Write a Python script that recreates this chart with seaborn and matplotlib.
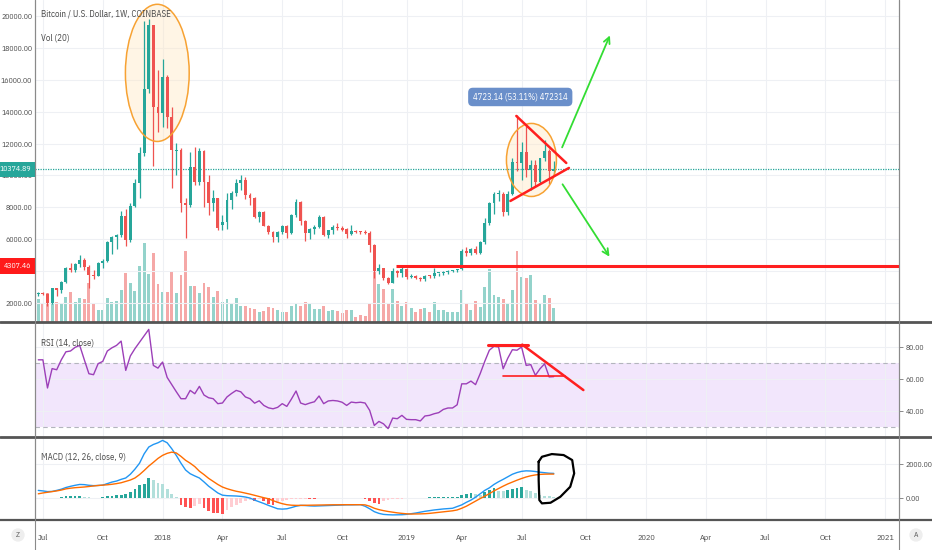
import numpy as np
import pandas as pd
import matplotlib
matplotlib.use("Agg")
import matplotlib.pyplot as plt
import matplotlib.dates as mdates
from matplotlib.patches import Ellipse
from matplotlib.lines import Line2D
from matplotlib.transforms import blended_transform_factory
import seaborn as sns

# weekly BTC/USD candles (week starting 2017-06-26)
opens = [2560, 2610, 2560, 1980, 2920, 2810, 3340, 4180, 4100, 4430,
         4700, 4280, 3780, 3720, 4490, 4660, 5810, 6120, 6270, 7460,
         5950, 8090, 9550, 11390, 15410, 19440, 14320, 13900, 16200, 13690,
         11560, 11600, 8250, 8150, 10550, 9610, 11560, 9610, 8250, 8580,
         6900, 7100, 8460, 8880, 9510, 9720, 8780, 8580, 7415, 7730,
         6850, 6470, 6160, 6430, 6830, 6410, 7520, 8320, 7170, 6410,
         6620, 6790, 7415, 6260, 6580, 6790, 6690, 6620, 6300, 6510,
         6470, 6460, 6410, 5640, 4030, 4180, 3600, 3270, 4030, 3860,
         4130, 3650, 3700, 3600, 3500, 3690, 3670, 3860, 3880, 3920,
         4000, 4050, 4150, 5280, 5110, 5390, 5150, 5850, 7040, 8250,
         8820, 8850, 7700, 8850, 10850, 10750, 11500, 10350, 10650, 9600,
         11080, 11550, 10300]
highs = [2700, 2680, 2600, 2950, 2960, 3400, 4250, 4480, 4500, 5010,
         4850, 4400, 4100, 4550, 4750, 5900, 6200, 6300, 7800, 7900,
         8250, 9800, 11800, 19700, 19800, 19450, 16600, 17300, 16300, 14300,
         12050, 11700, 8600, 11450, 11800, 11700, 11600, 10000, 9100, 8600,
         7500, 8900, 9000, 9750, 10030, 9900, 8900, 8650, 7800, 7800,
         6900, 6500, 6500, 6900, 6900, 7600, 8500, 8400, 7200, 6700,
         6900, 7500, 7450, 6600, 6900, 7000, 6800, 6700, 6900, 6550,
         6500, 6600, 6500, 5700, 4450, 4200, 3650, 4200, 4100, 4250,
         4200, 3800, 3750, 3650, 3750, 3750, 4200, 3900, 3980, 4050,
         4100, 4150, 5400, 5500, 5450, 5600, 5900, 7300, 8350, 8950,
         9100, 8950, 9000, 11100, 13800, 12100, 13150, 10950, 10950, 11100,
         12250, 11650, 10900]
lows = [2450, 2480, 1830, 1960, 2450, 2620, 3250, 3950, 3960, 4280,
        4100, 2970, 3500, 3700, 4200, 4600, 5100, 5400, 6150, 5600,
        5850, 8000, 8600, 11200, 15200, 10600, 12750, 13060, 12960, 9200,
        10000, 7730, 6060, 8000, 9400, 9400, 8040, 7500, 7800, 6600,
        6550, 6650, 7900, 8700, 9100, 8500, 8160, 7300, 7050, 6800,
        6300, 5800, 5800, 6300, 6100, 6300, 7400, 6900, 5900, 6000,
        6300, 6700, 6200, 6100, 6300, 6550, 6500, 6100, 6250, 6400,
        6300, 6350, 5200, 3600, 3800, 3450, 3220, 3240, 3650, 3650,
        3500, 3550, 3500, 3380, 3400, 3600, 3600, 3700, 3750, 3800,
        3950, 3950, 4100, 4950, 5000, 5100, 5100, 5700, 6900, 7600,
        8400, 7450, 7500, 8800, 10300, 9700, 9900, 9100, 9350, 9450,
        10900, 9450, 9950]
closes = [2610, 2560, 1980, 2920, 2810, 3340, 4180, 4100, 4430, 4700,
          4280, 3760, 3720, 4490, 4660, 5810, 6120, 6270, 7460, 5950,
          8090, 9550, 11390, 15410, 19440, 14320, 13900, 16200, 13690, 11600,
          11600, 8250, 8150, 10550, 9610, 11560, 9610, 8250, 8580, 6690,
          7100, 8460, 8880, 9510, 9720, 8780, 8580, 7415, 7730, 6850,
          6470, 6160, 6430, 6830, 6410, 7520, 8320, 7170, 6410, 6620,
          6790, 7415, 6260, 6580, 6790, 6690, 6580, 6300, 6510, 6470,
          6460, 6410, 5640, 4030, 4180, 3600, 3270, 4030, 3860, 4130,
          3650, 3700, 3600, 3500, 3690, 3670, 3860, 3880, 3920, 4000,
          4050, 4150, 5280, 5110, 5390, 5150, 5850, 7040, 8250, 8820,
          8850, 7700, 8850, 10850, 10750, 11500, 10350, 10650, 9600, 11080,
          11550, 10300, 10374.89]
volume = [46, 36, 58, 38, 40, 36, 50, 60, 40, 48,
          46, 78, 38, 24, 24, 48, 40, 42, 64, 98,
          78, 62, 112, 158, 96, 138, 76, 60, 60, 102,
          58, 94, 142, 72, 72, 58, 78, 70, 50, 62,
          40, 46, 38, 48, 32, 32, 28, 26, 20, 22,
          30, 28, 24, 20, 20, 32, 38, 32, 40, 36,
          26, 26, 32, 22, 24, 22, 18, 24, 24, 10,
          14, 12, 38, 104, 76, 66, 38, 66, 42, 32,
          40, 28, 20, 26, 28, 20, 40, 24, 24, 20,
          20, 20, 64, 36, 24, 42, 30, 70, 106, 54,
          50, 46, 38, 64, 142, 90, 88, 94, 44, 36,
          54, 48, 28]
rsi = [72, 72, 54.4, 66.5, 65.8, 72, 77, 77.5, 79.8, 81,
       72, 63.3, 62.7, 69.6, 71, 77.5, 79.5, 81, 83.7, 65.4,
       74.4, 79, 83, 87, 91, 68.5, 66.8, 70.6, 61, 56.5,
       52, 47.7, 47.7, 52.9, 50.8, 55.4, 50, 48.3, 47.7, 44.6,
       45, 48.8, 51, 52.9, 52, 48.8, 47.7, 44.9, 46.4, 43.5,
       42, 41.4, 42.3, 44.6, 42.9, 47.5, 52.5, 45, 44, 45,
       45.8, 49.4, 44.6, 46.3, 46.6, 46.3, 45.5, 43.5, 45.6, 45.2,
       45.5, 45, 40.4, 31, 33.5, 32, 29, 35.6, 35.2, 37.3,
       34.8, 34.6, 34.6, 33.8, 36.9, 37.3, 38.3, 39, 41, 41.9,
       41.9, 43.9, 57, 57, 58.7, 56.5, 63.3, 71, 78, 80.4,
       80, 66.4, 73, 78.3, 78, 80, 68.5, 69, 62.3, 66.4,
       69.5, 61.3, 61.5]
macd = [450, 420, 380, 390, 450, 520, 620, 690, 750, 800,
        790, 750, 730, 740, 760, 850, 940, 1000, 1100, 1180,
        1400, 1700, 2050, 2600, 3000, 3150, 3250, 3390, 3250, 2900,
        2500, 2050, 1650, 1430, 1300, 1180, 950, 700, 500, 300,
        170, 140, 130, 120, 100, 60, 0, -120, -220, -320,
        -430, -530, -630, -650, -630, -560, -480, -430, -440, -460,
        -470, -460, -450, -440, -430, -420, -410, -400, -400, -395,
        -390, -480, -630, -800, -900, -960, -980, -990, -985, -980,
        -960, -920, -880, -830, -780, -740, -700, -670, -640, -620,
        -600, -500, -400, -250, -120, 50, 250, 450, 600, 800,
        960, 1100, 1250, 1400, 1500, 1570, 1600, 1590, 1560, 1520,
        1490, 1460, 1450]
signal = [250, 300, 340, 380, 420, 470, 540, 580, 610, 630,
          650, 680, 710, 740, 760, 780, 810, 850, 900, 980,
          1060, 1180, 1380, 1620, 1880, 2100, 2330, 2510, 2630, 2700,
          2650, 2450, 2220, 2050, 1850, 1580, 1380, 1160, 980, 800,
          650, 550, 470, 400, 350, 290, 230, 160, 90, 20,
          -40, -150, -250, -330, -390, -420, -430, -430, -425, -420,
          -415, -410, -405, -400, -395, -395, -392, -390, -390, -390,
          -390, -400, -480, -600, -680, -740, -790, -830, -870, -900,
          -925, -940, -935, -930, -920, -900, -870, -840, -810, -780,
          -750, -700, -600, -480, -330, -180, -30, 110, 260, 420,
          560, 700, 830, 940, 1050, 1150, 1240, 1310, 1360, 1390,
          1405, 1410, 1410]
hist = [20, 15, 10, 15, 30, 80, 100, 110, 120, 130,
        60, 40, 30, 20, 60, 110, 150, 170, 200, 250,
        350, 550, 750, 850, 1200, 1040, 880, 840, 550, 250,
        80, -400, -550, -600, -450, -350, -600, -750, -850, -900,
        -920, -700, -550, -400, -300, -200, -120, -160, -60, -200,
        -350, -400, -300, -200, -120, -80, -50, -40, -30, -60,
        -70, -20, -10, -5, 5, 5, 5, 5, 5, 5,
        30, -30, -200, -300, -350, -150, -100, -60, -40, -30,
        20, 20, 25, 30, 30, 40, 50, 50, 60, 60,
        70, 90, 200, 250, 290, 230, 200, 350, 450, 590,
        420, 390, 480, 560, 600, 640, 490, 390, 290, 200,
        150, 100, 60]

price_ticks = list(range(2000, 20001, 2000))
tick_dates = ['2017-07-03', '2017-10-02', '2018-01-01', '2018-04-02', '2018-07-02',
              '2018-10-01', '2019-01-07', '2019-04-01', '2019-07-01', '2019-10-07',
              '2020-01-06', '2020-04-06', '2020-07-06', '2020-10-05', '2021-01-04']
tick_labels = ['Jul', 'Oct', '2018', 'Apr', 'Jul', 'Oct', '2019', 'Apr', 'Jul', 'Oct',
               '2020', 'Apr', 'Jul', 'Oct', '2021']
support_level = 4307.46

UP, DOWN = '#26a69a', '#ef5350'
GRID = '#eef0f4'
TXT = '#4a4a4a'
FS = 5.7

sns.set_theme(style="white")
plt.rcParams['font.family'] = ['IBM Plex Sans Condensed', 'DejaVu Sans']


def d(s):
    return mdates.date2num(pd.Timestamp(s))


W, H = 932, 550


def rect(x0, y0, x1, y1):
    return [x0 / W, 1 - y1 / H, (x1 - x0) / W, (y1 - y0) / H]


O, Hh, L, C = map(np.array, (opens, highs, lows, closes))
n = len(C)
weeks = pd.date_range('2017-06-26', periods=n, freq='7D')
x = mdates.date2num(weeks)
up = C >= O
cols = np.where(up, UP, DOWN)
vcols = np.where(up, '#94d3cb', '#f5a8a7')

fig = plt.figure(figsize=(W / 100, H / 100), dpi=100)
ax = fig.add_axes(rect(35, 0, 899, 322))
ax_rsi = fig.add_axes(rect(35, 323, 899, 436), sharex=ax)
ax_macd = fig.add_axes(rect(35, 437, 899, 520), sharex=ax)
xl, xr = d('2017-06-21'), d('2021-01-25')

# ---- main pane: volume underneath, candles on top
ax_vol = ax.twinx()
ax_vol.bar(x, volume, width=4.4, color=vcols, linewidth=0)
ax_vol.set_ylim(0, max(volume) * 4.08)
ax_vol.axis('off')
ax.set_zorder(ax_vol.get_zorder() + 1)
ax.patch.set_visible(False)

ax.vlines(x, L, Hh, colors=cols, lw=0.9, zorder=3)
ax.bar(x, np.maximum(np.abs(C - O), 60), bottom=np.minimum(O, C), width=4.4,
       color=cols, linewidth=0, zorder=4)
ax.set_xlim(xl, xr)
ax.set_ylim(810, 21000)
ax.set_yticks(price_ticks)
ax.set_yticklabels([f'{v:.2f}' for v in price_ticks])
ax.grid(True, color=GRID, lw=0.8)
ax.axhline(C[-1], color=UP, lw=0.9, ls=(0, (1, 1)), zorder=2)

# drawings
ax.add_patch(Ellipse((d('2017-12-24'), 16430), 97, 8600, fc='#ffe9c7', ec='none', alpha=0.45, zorder=1))
ax.add_patch(Ellipse((d('2017-12-24'), 16430), 97, 8600, fc='none', ec='#f7a233', lw=1.1, zorder=6))
ax.add_patch(Ellipse((d('2019-07-16'), 10970), 76, 4580, fc='#ffe9c7', ec='none', alpha=0.45, zorder=1))
ax.add_patch(Ellipse((d('2019-07-16'), 10970), 76, 4580, fc='none', ec='#f7a233', lw=1.1, zorder=6))
ax.plot([d('2019-06-23'), d('2019-09-07')], [13730, 10780], color='#ff1f1f', lw=1.8, zorder=7)
ax.plot([d('2019-06-14'), d('2019-09-11')], [8400, 10470], color='#ff1f1f', lw=1.8, zorder=7)
ax.hlines(support_level, d('2018-12-22'), xr, color='#ff1f1f', lw=2.2, zorder=7)
for end in [(d('2019-11-14'), 18940), (d('2019-11-14'), 4760)]:
    start = (d('2019-08-30'), 11600 if end[1] > 10000 else 9590)
    ax.annotate('', xy=end, xytext=start,
                arrowprops=dict(arrowstyle='->', color='#33dd33', lw=1.3, mutation_scale=11),
                zorder=7)
ax.text(d('2019-06-29'), 14920, '4723.14 (53.11%) 472314', ha='center', va='center',
        color='white', fontsize=FS + 0.5, zorder=8,
        bbox=dict(boxstyle='round,pad=0.55', fc='#6a8fca', ec='none'))

lbl = blended_transform_factory(ax.transAxes, ax.transData)
ax.text(-0.004, C[-1], f'{C[-1]:.2f}', transform=lbl, ha='right', va='center', color='white',
        fontsize=FS, clip_on=False, zorder=9,
        bbox=dict(boxstyle='square,pad=0.4', fc=UP, ec='none'))
ax.text(-0.004, support_level, f'{support_level:.2f}', transform=lbl, ha='right', va='center',
        color='white', fontsize=FS, clip_on=False, zorder=9,
        bbox=dict(boxstyle='square,pad=0.5', fc='#ff1a1a', ec='none'))

# ---- RSI pane
ax_rsi.axhspan(30, 70, color='#f2e6fc', lw=0, zorder=0)
for lvl in (30, 70):
    ax_rsi.axhline(lvl, color='#b3b5bd', lw=0.8, ls=(0, (4, 3)), zorder=1)
sns.lineplot(x=x, y=rsi, ax=ax_rsi, color='#9c3fb8', lw=1.0, zorder=3)
ax_rsi.set_ylim(24.4, 95)
ax_rsi.set_yticks([40, 60, 80])
ax_rsi.set_yticklabels(['40.00', '60.00', '80.00'])
ax_rsi.grid(True, color=GRID, lw=0.8)
ax_rsi.plot([d('2019-05-11'), d('2019-07-11')], [81.3, 81.3], color='#ff1f1f', lw=2.2, zorder=5)
ax_rsi.plot([d('2019-07-02'), d('2019-10-03')], [81.5, 53.1], color='#ff1f1f', lw=1.8, zorder=5)
ax_rsi.plot([d('2019-06-02'), d('2019-09-05')], [61.9, 61.9], color='#ff1f1f', lw=1.2, zorder=5)

# ---- MACD pane
hcols = []
for i, h in enumerate(hist):
    prev = hist[i - 1] if i else h
    if h >= 0:
        hcols.append('#26a69a' if h >= prev else '#b2dfdb')
    else:
        hcols.append('#ff5252' if h < prev else '#ffcdd2')
ax_macd.bar(x, hist, width=4.2, color=hcols, linewidth=0, zorder=2)
sns.lineplot(x=x, y=macd, ax=ax_macd, color='#2196f3', lw=1.0, zorder=3)
sns.lineplot(x=x, y=signal, ax=ax_macd, color='#ff6d00', lw=1.0, zorder=3)
ax_macd.set_ylim(-1290, 3590)
ax_macd.set_yticks([0, 2000])
ax_macd.set_yticklabels(['0.00', '2000.00'])
ax_macd.grid(True, color=GRID, lw=0.8)
loop = [(571.9, 2134), (577, 2428), (592, 2587), (610, 2528), (623, 2234), (626, 1452),
        (620, 664), (605, 76), (590, -276), (577, -312), (573, -118), (572, 1058), (571.9, 2134)]
base = d('2018-01-01')
ax_macd.plot([base + p[0] for p in loop], [p[1] for p in loop], color='black', lw=1.6,
             solid_joinstyle='round', solid_capstyle='round', zorder=6)

# ---- axes cosmetics
tnum = [d(t) for t in tick_dates]
for a in (ax, ax_rsi, ax_macd):
    a.set_xticks(tnum)
    a.set_xlabel('')
    a.set_ylabel('')
    a.spines['top'].set_visible(False)
    a.spines['bottom'].set_visible(False)
    for s in ('left', 'right'):
        a.spines[s].set_color('#8a8a8a')
        a.spines[s].set_linewidth(0.8)
    a.tick_params(axis='both', labelsize=FS, labelcolor=TXT, colors='#8a8a8a')
ax.set_xlim(xl, xr)
ax.tick_params(axis='x', length=0, labelbottom=False)
ax_rsi.tick_params(axis='x', length=0, labelbottom=False)
ax.tick_params(axis='y', length=0, pad=2)
for a in (ax_rsi, ax_macd):
    a.yaxis.tick_right()
    a.tick_params(axis='y', length=3, pad=2, width=0.7)
ax_macd.set_xticklabels(tick_labels)
ax_macd.tick_params(axis='x', length=3, pad=7, width=0.7, labelsize=FS + 0.3)

# pane separators and outer frame lines
for yy, lw in ((322, 2.0), (436.5, 2.0), (520, 1.6)):
    fig.add_artist(Line2D([0, 1], [1 - yy / H] * 2, color='#555555', lw=lw))
for xx in (35, 899):
    fig.add_artist(Line2D([xx / W] * 2, [0, 1], color='#8a8a8a', lw=0.8))

fig.text(41 / W, 1 - 14 / H, 'Bitcoin / U.S. Dollar, 1W, COINBASE', fontsize=6.4, color=TXT, va='center')
fig.text(41 / W, 1 - 38 / H, 'Vol (20)', fontsize=6.4, color=TXT, va='center')
fig.text(41 / W, 1 - 343 / H, 'RSI (14, close)', fontsize=6.4, color=TXT, va='center')
fig.text(41 / W, 1 - 457 / H, 'MACD (12, 26, close, 9)', fontsize=6.4, color=TXT, va='center')
for xx, s in ((18, 'Z'), (916, 'A')):
    fig.text(xx / W, 1 - 535 / H, s, fontsize=5.5, color='#555555', ha='center', va='center',
             bbox=dict(boxstyle='circle,pad=0.35', fc='#eeeeee', ec='none'))

fig.savefig('out.png', dpi=100, facecolor='white')
